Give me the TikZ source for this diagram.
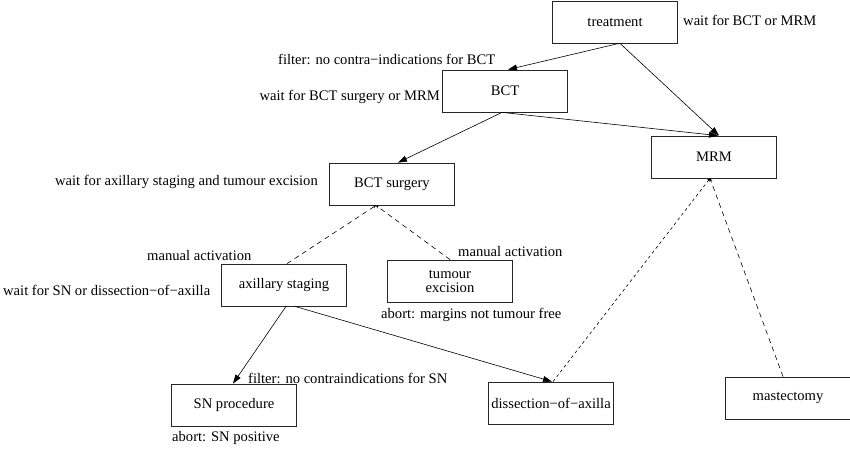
\documentclass[tikz,border=0pt]{standalone}
\usepackage{fontspec}
\setmainfont{Liberation Serif}
\usetikzlibrary{arrows.meta,calc}
\begin{document}
\begin{tikzpicture}[x=1pt,y=-1pt,
  every node/.style={font=\rmfamily\fontsize{14.6}{16}\selectfont},
  box/.style={draw=black!85, line width=0.8pt, minimum width=125pt, minimum height=42pt, inner sep=1pt, align=center},
  lab/.style={inner sep=0pt, anchor=west},
  edge/.style={line width=0.6pt, -{Triangle[length=9pt,width=6pt]}},
  dedge/.style={line width=0.6pt, dash pattern=on 5pt off 4pt, -{Stealth[length=3pt,width=3pt]}},
  fedge/.style={line width=0.6pt, dash pattern=on 3pt off 3pt, -{Stealth[length=3pt,width=3pt]}}
]
\useasboundingbox (0,0) rectangle (850,454);
% boxes
\node[box] (t) at (615,22) {treatment};
\node[box] (b) at (505,91) {BCT};
\node[box] (m) at (714,157) {MRM};
\node[box] (bs) at (392,184) {BCT surgery};
\node[box] (ax) at (284,285) {axillary staging};
\node[box] (te) at (450,281) {tumour\\[-2pt]excision};
\node[box] (sn) at (234,405) {SN procedure};
\node[box] (da) at (551,403) {dissection−of−axilla};
\node[box] (ma) at (788,398) {mastectomy};
% labels
\node[lab] (l1) at (683,20) {wait for BCT or MRM};
\node[lab] (l2) at (278,59) {filter: no contra−indications for BCT};
\node[lab, anchor=east] (l3) at (440,97) {wait for BCT surgery or MRM};
\node[lab, anchor=east] (l4) at (318,182) {wait for axillary staging and tumour excision};
\node[lab] (l5) at (147,256) {manual activation};
\node[lab] (l6) at (458,252) {manual activation};
\node[lab] (l7) at (3,290) {wait for SN or dissection−of−axilla};
\node[lab] (l8) at (381,315) {abort: margins not tumour free};
\node[lab] (l9) at (248,378) {filter: no contraindications for SN};
\node[lab] (l10) at (172,438) {abort: SN positive};
% solid edges
\draw[edge] ([xshift=4pt]t.south) -- ([xshift=3pt]b.north);
\draw[edge] ([xshift=5pt]t.south) -- ([xshift=5pt]m.north);
\draw[edge] ([xshift=-3pt]b.south) -- ([xshift=6pt]bs.north);
\draw[edge] ([xshift=-3pt]b.south) -- ([xshift=4pt]m.north);
\draw[edge] ([xshift=2pt]ax.south) -- ([xshift=-1pt]sn.north);
\draw[edge] ([xshift=11pt]ax.south) -- ([xshift=1pt]da.north);
% dashed edges
\draw[dedge] ([xshift=3pt]ax.north) -- ([xshift=-16pt]bs.south);
\draw[dedge] (te.north) -- ([xshift=-16pt]bs.south);
\draw[fedge] ([xshift=2pt]da.north) -- ([xshift=-4pt]m.south);
\draw[dedge] ([xshift=-5pt]ma.north) -- ([xshift=-4pt]m.south);
\end{tikzpicture}
\end{document}
